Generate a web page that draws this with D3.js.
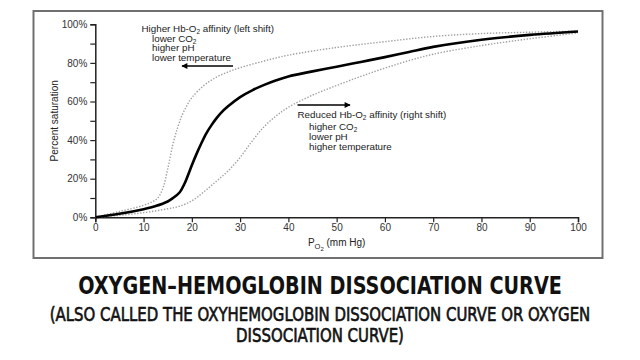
<!DOCTYPE html>
<html>
<head>
<meta charset="utf-8">
<script src="https://cdn.jsdelivr.net/npm/d3@7"></script>
<style>
  html, body { margin: 0; padding: 0; background: #fff; }
  svg { display: block; }
</style>
</head>
<body>
<div id="chart"></div>
<script>
// dados (PO2 em mm Hg, saturação em %)
const normalPo2 = [0, 5, 10, 12.5, 15, 16, 17.5, 18.5, 20, 21, 22, 23, 24, 25, 26, 27.5, 30, 32.5, 35, 37.5, 40, 45, 50, 55, 60, 65, 70, 80, 90, 100];
const normalSat = [0, 1.8, 4.2, 5.8, 8.2, 9.8, 13, 17.5, 27, 33, 38.5, 43.5, 47.5, 51, 54, 57.5, 62.3, 65.8, 68.6, 71, 73, 75.6, 78, 80.5, 83, 85.7, 88.3, 92, 94.5, 96.3];

const leftPo2 = [0, 5, 10, 12, 13, 14, 15, 16, 17, 18, 19, 20, 22.5, 25, 27.5, 30, 35, 40, 50, 60, 70, 80, 90, 100];
const leftShiftSat = [0, 3, 6.2, 8.3, 10.2, 15, 25, 37, 46, 53, 58, 62, 68.3, 72.5, 75.3, 77.5, 81, 84, 88, 91, 93.7, 95.2, 95.9, 96.5];

const rightPo2 = [0, 5, 10, 15, 17.5, 20, 22.5, 25, 27.5, 30, 32.5, 35, 37.5, 40, 45, 50, 55, 60, 65, 70, 80, 90, 100];
const rightShiftSat = [0, 1, 2.4, 4.4, 5.8, 8.5, 13.2, 18.5, 24, 31, 39.5, 47, 52.6, 57, 63.3, 68.3, 73, 77.3, 81.2, 84.5, 89, 92.5, 95.5];

const xTicks = [0, 10, 20, 30, 40, 50, 60, 70, 80, 90, 100];
const yTicks = [0, 10, 20, 30, 40, 50, 60, 70, 80, 90, 100];
const yLabelled = [0, 20, 40, 60, 80, 100];

const leftNote = ["Higher Hb-O|2| affinity (left shift)", "lower CO|2", "higher pH", "lower temperature"];
const rightNote = ["Reduced Hb-O|2| affinity (right shift)", "higher CO|2", "lower pH", "higher temperature"];

const W = 640, H = 360;
const svg = d3.select("#chart").append("svg")
    .attr("width", W)
    .attr("height", H)
    .style("font-family", "'Liberation Sans', Arial, sans-serif");

const x = d3.scaleLinear().domain([0, 100]).range([95.3, 578]);
const y = d3.scaleLinear().domain([0, 100]).range([217.3, 24.3]);

// moldura
svg.append("rect")
    .attr("x", 33.5).attr("y", 11)
    .attr("width", 569).attr("height", 247)
    .attr("fill", "none")
    .attr("stroke", "#707070")
    .attr("stroke-width", 2);

// eixos
const xAxis = svg.append("g")
    .attr("transform", `translate(0,${y(0)})`)
    .call(d3.axisBottom(x).tickValues(xTicks).tickSizeOuter(0).tickSize(5).tickPadding(2));
const yAxis = svg.append("g")
    .attr("transform", `translate(${x(0)},0)`)
    .call(d3.axisLeft(y).tickValues(yTicks).tickSizeOuter(0).tickSize(5).tickPadding(3)
        .tickFormat(d => yLabelled.includes(d) ? d + "%" : ""));

[xAxis, yAxis].forEach(g => {
  g.select(".domain").attr("stroke", "#222").attr("stroke-width", 1.5);
  g.selectAll(".tick line").attr("stroke", "#222").attr("stroke-width", 1.2);
  g.selectAll("text").attr("fill", "#333").style("font-size", "10px").style("font-family", "'Liberation Sans', Arial, sans-serif");
});

// curvas
const line = (xs, vals) => d3.line()
    .x((d, i) => x(xs[i]))
    .y(d => y(d))
    .curve(d3.curveCatmullRom.alpha(0.5))(vals);

svg.append("path").attr("d", line(leftPo2, leftShiftSat))
    .attr("fill", "none").attr("stroke", "#a0a0a0").attr("stroke-width", 1.4)
    .attr("stroke-dasharray", "1.4 1.6");
svg.append("path").attr("d", line(rightPo2, rightShiftSat))
    .attr("fill", "none").attr("stroke", "#a0a0a0").attr("stroke-width", 1.4)
    .attr("stroke-dasharray", "1.4 1.6");
svg.append("path").attr("d", line(normalPo2, normalSat))
    .attr("fill", "none").attr("stroke", "#000").attr("stroke-width", 2.6);

// rótulos dos eixos
svg.append("text")
    .attr("transform", `translate(58,${(y(0) + y(100)) / 2}) rotate(-90)`)
    .attr("text-anchor", "middle")
    .style("font-size", "10px").attr("fill", "#222")
    .text("Percent saturation");

const xl = svg.append("text")
    .attr("x", (x(0) + x(100)) / 2).attr("y", 246)
    .attr("text-anchor", "middle")
    .style("font-size", "10px").attr("fill", "#222");
xl.append("tspan").text("P");
xl.append("tspan").attr("dy", 3).style("font-size", "7.5px").text("O");
xl.append("tspan").attr("dy", 1.5).style("font-size", "6px").text("2");
xl.append("tspan").attr("dy", -4.5).text(" (mm Hg)");

// anotações: um bloco de texto por nota, linhas em tspans
function note(lines, bx, by, indent, gap) {
  const el = svg.append("text").style("font-size", "9.8px").attr("fill", "#222");
  lines.forEach((str, i) => {
    const parts = str.split("|");
    el.append("tspan").attr("x", i ? bx + indent : bx).attr("y", by + (i ? gap[0] + (i - 1) * gap[1] : 0))
        .text(parts[0]);
    if (parts.length > 1) {
      el.append("tspan").attr("dy", 2).style("font-size", "6.5px").text(parts[1]);
      if (parts[2]) el.append("tspan").attr("dy", -2).text(parts[2]);
    }
  });
}

svg.append("defs").append("marker")
    .attr("id", "arr").attr("viewBox", "0 0 10 10")
    .attr("refX", 9).attr("refY", 5)
    .attr("markerWidth", 7).attr("markerHeight", 6)
    .attr("markerUnits", "userSpaceOnUse")
    .attr("orient", "auto")
  .append("path").attr("d", "M0,0L10,5L0,10Z").attr("fill", "#000");

note(leftNote, 141.5, 31.5, 10.5, [10, 9.8]);
svg.append("line").attr("x1", 233).attr("x2", 182).attr("y1", 66).attr("y2", 66)
    .attr("stroke", "#000").attr("stroke-width", 1.5).attr("marker-end", "url(#arr)");

svg.append("line").attr("x1", 297.5).attr("x2", 350).attr("y1", 105).attr("y2", 105)
    .attr("stroke", "#000").attr("stroke-width", 1.5).attr("marker-end", "url(#arr)");
note(rightNote, 297.5, 117.5, 11.5, [12.5, 9.8]);

// título (fonte condensada, largura ajustada à referência)
function fitted(str, baseY, size, weight, width, extra) {
  const g = svg.append("g");
  const t = g.append("text")
      .attr("x", 0).attr("y", 0)
      .attr("text-anchor", "middle")
      .style("font-family", "'DejaVu Sans Condensed', 'Liberation Sans Narrow', sans-serif")
      .style("font-weight", weight).style("font-size", size + "px").attr("fill", "#111")
      .attr("stroke", extra ? "#111" : "none").attr("stroke-width", extra || 0)
      .text(str);
  const w = t.node().getComputedTextLength();
  g.attr("transform", `translate(320,${baseY}) scale(${width / w},1)`);
}
fitted("OXYGEN–HEMOGLOBIN DISSOCIATION CURVE", 294.3, 25, "bold", 484);
fitted("(ALSO CALLED THE OXYHEMOGLOBIN DISSOCIATION CURVE OR OXYGEN", 320.7, 19, "normal", 541, 0.6);
fitted("DISSOCIATION CURVE)", 342, 19, "normal", 168, 0.6);
</script>
</body>
</html>
